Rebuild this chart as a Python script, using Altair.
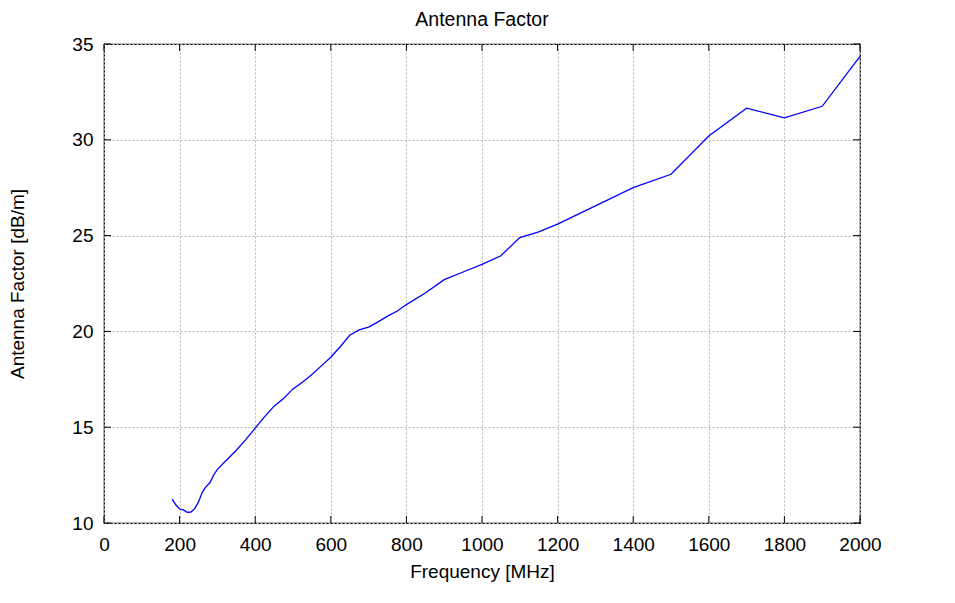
import altair as alt
import pandas as pd

freq = [180, 190, 200, 210, 220, 230, 240, 250, 260, 270, 280, 290, 300, 325, 350, 375,
        400, 425, 450, 475, 500, 525, 550, 575, 600, 625, 650, 675, 700, 725, 750, 775,
        800, 850, 900, 950, 1000, 1050, 1100, 1150, 1200, 1300, 1400, 1500, 1600, 1700,
        1800, 1900, 2000]
af = [11.25, 10.95, 10.73, 10.68, 10.56, 10.57, 10.75, 11.1, 11.6, 11.9, 12.1, 12.5, 12.8,
      13.3, 13.8, 14.35, 14.95, 15.55, 16.1, 16.5, 17.0, 17.35, 17.75, 18.2, 18.65, 19.2,
      19.8, 20.08, 20.22, 20.5, 20.8, 21.05, 21.4, 22.0, 22.7, 23.1, 23.5, 23.95, 24.9,
      25.2, 25.6, 26.55, 27.5, 28.2, 30.2, 31.65, 31.15, 31.75, 34.35]
x_ticks = [0, 200, 400, 600, 800, 1000, 1200, 1400, 1600, 1800, 2000]
y_ticks = [10, 15, 20, 25, 30, 35]

W, H = 756, 479
FONT = "Liberation Sans"

df = pd.DataFrame({"f": freq, "af": af})
xt = pd.DataFrame({"f": x_ticks})
yt = pd.DataFrame({"af": y_ticks})

xs = alt.Scale(domain=[0, 2000], nice=False, zero=False)
ys = alt.Scale(domain=[10, 35], nice=False, zero=False)

x_axis = alt.Axis(
    values=x_ticks, title="Frequency [MHz]", format="d", grid=True,
    gridDash=[2, 2], gridColor="#b4b4b4", gridWidth=1, tickSize=0, domain=False,
    labelPadding=12, labelFontSize=19, labelFont=FONT, labelColor="black",
    labelFlush=False, labelOverlap=False,
    titleFontSize=19, titleFont=FONT, titleFontWeight="normal", titleColor="black",
    titlePadding=8)
y_axis = alt.Axis(
    values=y_ticks, title="Antenna Factor [dB/m]", grid=True,
    gridDash=[2, 2], gridColor="#b4b4b4", gridWidth=1, tickSize=0, domain=False,
    labelPadding=11, labelFontSize=19, labelFont=FONT, labelColor="black",
    labelFlush=False, labelOverlap=False,
    titleFontSize=19, titleFont=FONT, titleFontWeight="normal", titleColor="black",
    titlePadding=44)

line = alt.Chart(df).mark_line(color="#0000ff", strokeWidth=1.3).encode(
    x=alt.X("f:Q", scale=xs, axis=x_axis),
    y=alt.Y("af:Q", scale=ys, axis=y_axis),
)

tk = 7
bottom = alt.Chart(xt).mark_rule(color="black", strokeWidth=1).encode(
    x=alt.X("f:Q", scale=xs, axis=x_axis), y=alt.value(H), y2=alt.value(H - tk))
top = alt.Chart(xt).mark_rule(color="black", strokeWidth=1).encode(
    x=alt.X("f:Q", scale=xs, axis=x_axis), y=alt.value(0), y2=alt.value(tk))
left = alt.Chart(yt).mark_rule(color="black", strokeWidth=1).encode(
    y=alt.Y("af:Q", scale=ys, axis=y_axis), x=alt.value(0), x2=alt.value(tk))
right = alt.Chart(yt).mark_rule(color="black", strokeWidth=1).encode(
    y=alt.Y("af:Q", scale=ys, axis=y_axis), x=alt.value(W), x2=alt.value(W - tk))

chart = alt.layer(line, bottom, top, left, right).properties(
    width=W, height=H,
    title=alt.TitleParams("Antenna Factor", fontSize=19.5, font=FONT, fontWeight="normal",
                          color="black", anchor="middle", offset=5),
    autosize=alt.AutoSizeParams(type="none"),
    padding={"left": 104, "top": 44, "right": 95, "bottom": 80},
).configure(background="white").configure_view(stroke="black", strokeWidth=1.2)

chart.save("out.html", embed_options={"renderer": "svg", "actions": False})
